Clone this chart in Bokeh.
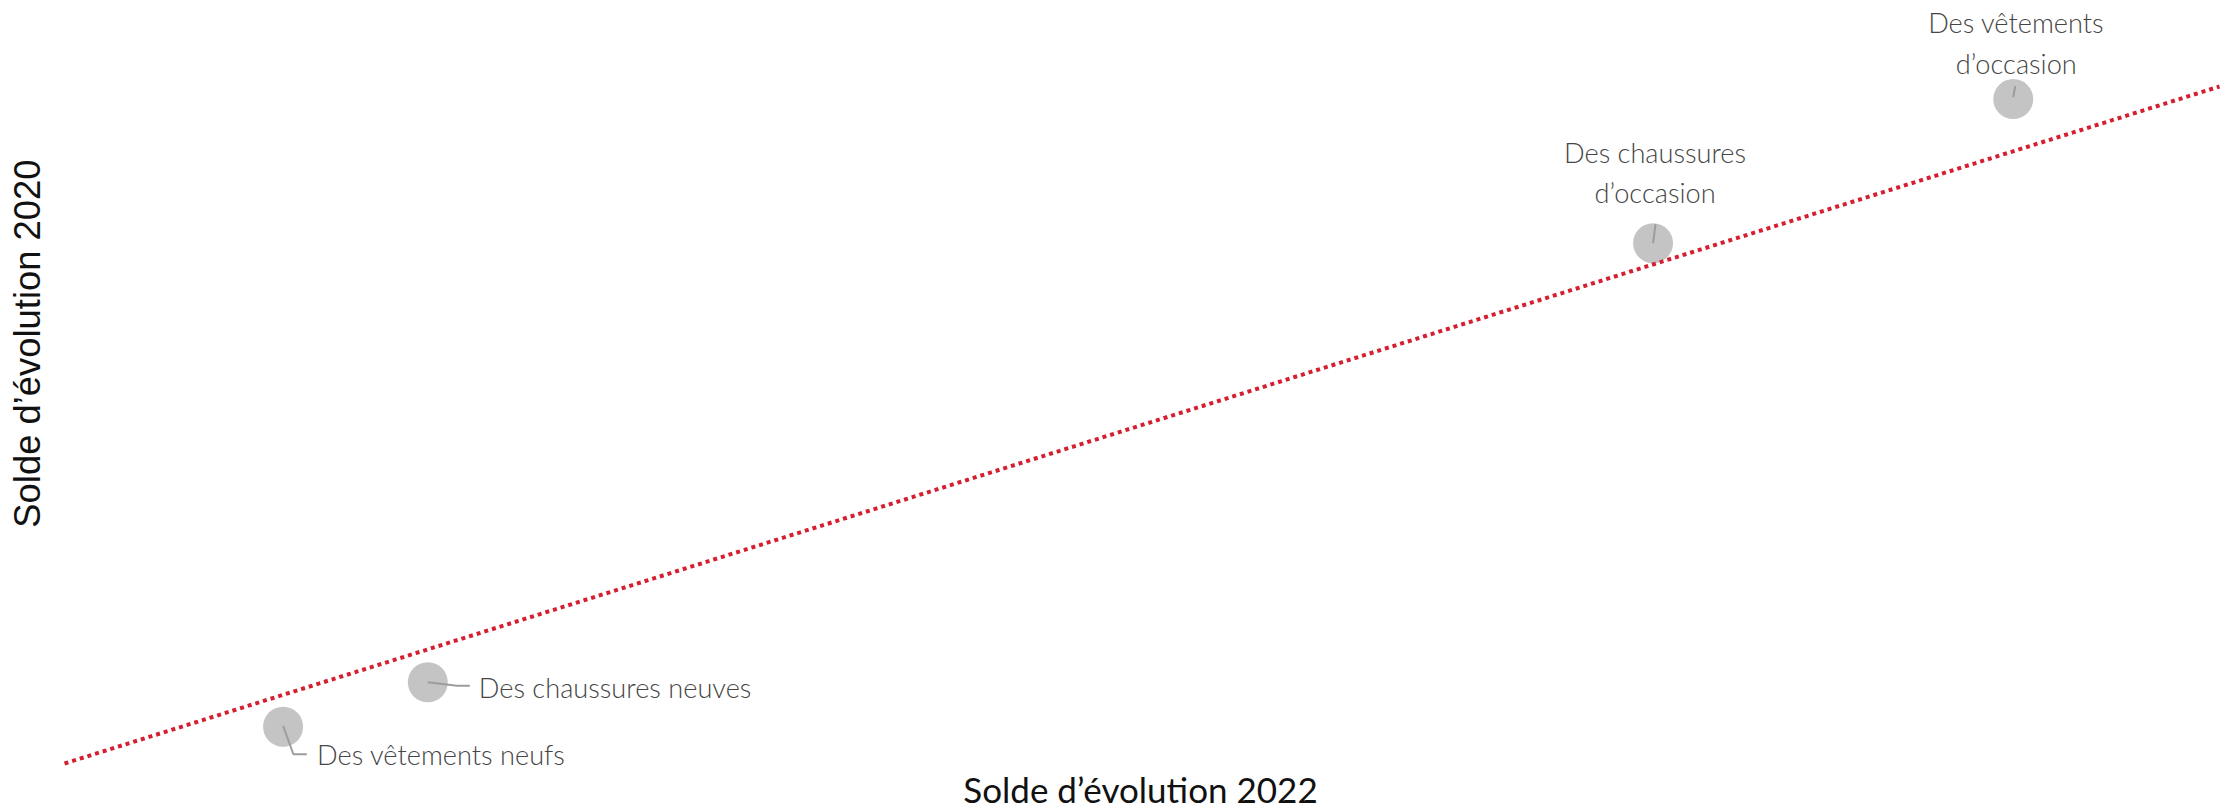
import math
from bokeh.plotting import figure
from bokeh.models import ColumnDataSource, Range1d, Label
from bokeh.core.properties import value
from bokeh.embed import file_html
from bokeh.resources import INLINE

# ---------------- data ----------------
categories = [
    "Des vêtements neufs",
    "Des chaussures neuves",
    "Des chaussures\nd’occasion",
    "Des vêtements\nd’occasion",
]
solde_2022 = [-22.9, -18.2, 21.6, 33.3]   # x
solde_2020 = [-26.2, -21.6, 23.8, 38.7]   # y
diagonal = [-30.0, 40.0]                  # reference line: solde 2020 = solde 2022
x_title = "Solde d’évolution 2022"
y_title = "Solde d’évolution  2020"

# ---------------- styles ----------------
W, H = 2231, 809
X0, X1 = -32.08, 40.39
Y0, Y1 = -34.756, 48.89
kx = W / (X1 - X0)   # px per unit
ky = H / (Y1 - Y0)

# leader lines, pixel offsets from each point (dx right, dy down)
leader_px = [
    [(0, -1), (10.3, 27.5), (23.7, 27.5)],
    [(0, 0), (29, 3.5), (42, 3.5)],
    [(0, 0), (2.5, -19)],
    [(0, -2), (2, -13)],
]
label_dx = [34, 51, 2, 3]
label_dy = [28, 5, -71, -56]

p = figure(width=W, height=H, x_range=Range1d(X0, X1), y_range=Range1d(Y0, Y1),
           output_backend="svg", toolbar_location=None, min_border=0,
           outline_line_color=None)
p.axis.visible = False
p.grid.visible = False
p.background_fill_color = "white"
p.border_fill_color = "white"

# points
p.scatter(solde_2022, solde_2020, size=40, fill_color="#c4c4c4", line_color=None)

# leaders
lxs, lys = [], []
for x, y, segs in zip(solde_2022, solde_2020, leader_px):
    lxs.append([x + dx / kx for dx, dy in segs])
    lys.append([y - dy / ky for dx, dy in segs])
p.multi_line(lxs, lys, line_color="#9c9c9c", line_width=2)

# diagonal reference line
p.line(diagonal, diagonal, line_color="#d51f31", line_width=4, line_dash="4 4")

# labels
single = ColumnDataSource(dict(x=solde_2022[:2], y=solde_2020[:2], t=categories[:2],
                               dx=label_dx[:2], dy=label_dy[:2]))
multi = ColumnDataSource(dict(x=solde_2022[2:], y=solde_2020[2:], t=categories[2:],
                              dx=label_dx[2:], dy=label_dy[2:]))
common = dict(text="t", x_offset="dx", y_offset="dy", text_font=value("Lato Light"),
              text_font_size="27.2px", text_color="#454545", text_line_height=1.22)
p.text(x="x", y="y", source=single, text_align="left", text_baseline="middle", **common)
p.text(x="x", y="y", source=multi, text_align="center", text_baseline="middle", **common)

# axis titles
p.add_layout(Label(x=1140, y=21, x_units="screen", y_units="screen", text=x_title,
                   text_align="center", text_baseline="middle",
                   text_font="Lato", text_font_size="35px", text_color="#111111"))
p.add_layout(Label(x=27, y=471, x_units="screen", y_units="screen", text=y_title,
                   angle=math.pi / 2, text_align="center", text_baseline="middle",
                   text_font="Liberation Sans", text_font_size="36.4px",
                   text_color="#111111"))

open("out.html", "w").write(file_html(p, INLINE))
